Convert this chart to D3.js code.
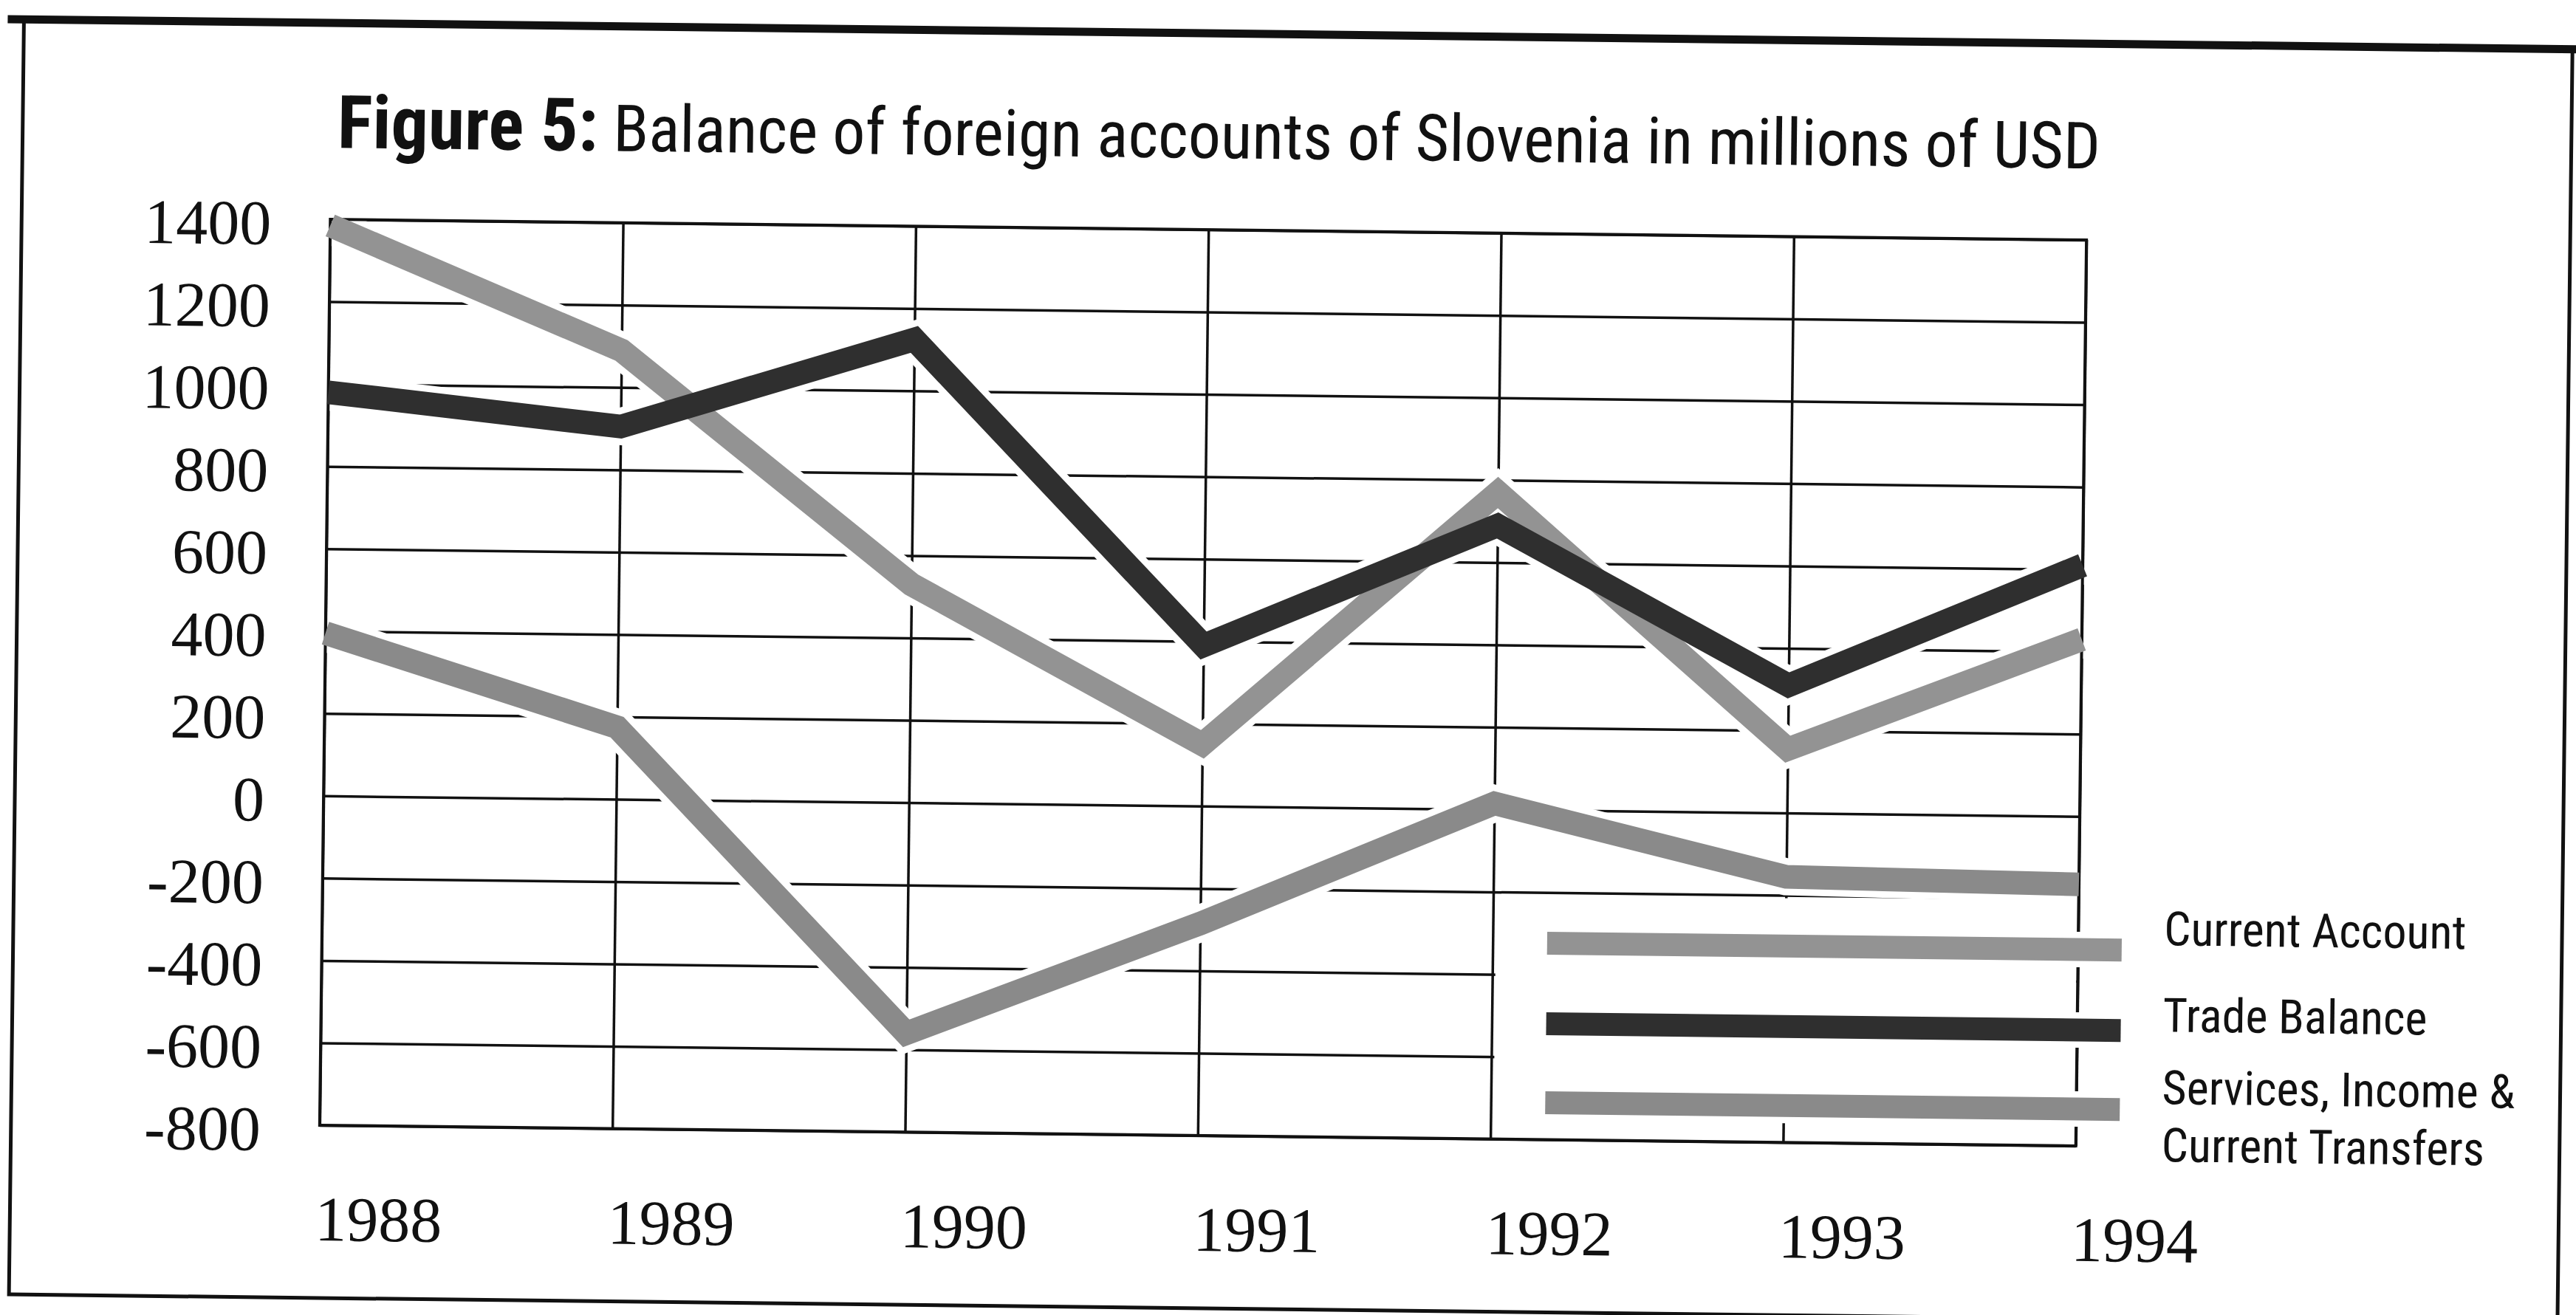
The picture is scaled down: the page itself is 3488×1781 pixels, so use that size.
<!DOCTYPE html>
<html><head><meta charset="utf-8">
<script src="https://cdn.jsdelivr.net/npm/d3@7/dist/d3.min.js"></script>
<style>html,body{margin:0;padding:0;background:#fff;} svg{display:block}</style>
</head><body>
<svg id="chart" width="3488" height="1781"></svg>
<script>
// ---- data ----
const years = [1988, 1989, 1990, 1991, 1992, 1993, 1994];
const currentAccount = [1385, 1090, 530, 150, 770, 155, 430];
const tradeBalance = [980, 905, 1125, 390, 690, 310, 610];
const servicesIncome = [395, 175, -560, -285, 15, -155, -165];
const yTicks = [1400, 1200, 1000, 800, 600, 400, 200, 0, -200, -400, -600, -800];
const yTickLabels = ["1400", "1200", "1000", "800", "600", "400", "200", "0", "-200", "-400", "-600", "-800"];
const xTickLabels = ["1988", "1989", "1990", "1991", "1992", "1993", "1994"];
const seriesNames = ["Current Account", "Trade Balance", "Services, Income &|Current Transfers"];
const titleBold = "Figure 5:";
const titleRest = "Balance of foreign accounts of Slovenia in millions of USD";

// ---- layout ----
const svg = d3.select("#chart");
const root = svg.append("g").attr("transform", "rotate(0.674 1630 923.5)");
const L = 440, R = 2818, T = 311, B = 1538;
const x = d3.scalePoint().domain(years).range([L, R]).padding(0);
const y = d3.scaleLinear().domain([-800, 1400]).range([B, T]);

const series = [
  {name: seriesNames[2], values: servicesIncome, color: "#8a8a8a"},
  {name: seriesNames[0], values: currentAccount, color: "#939393"},
  {name: seriesNames[1], values: tradeBalance, color: "#2f2f2f"}
];
const legendOrder = [series[1], series[2], series[0]];

const sans = "'Liberation Sans Narrow','Arial Narrow','Roboto Condensed',sans-serif";
const serif = "'Liberation Serif','Times New Roman',serif";

// outer frame
root.append("rect").attr("x", 22).attr("y", 45).attr("width", 3451).attr("height", 1727)
  .attr("fill", "none").attr("stroke", "#111").attr("stroke-width", 5);
root.append("line").attr("x1", 0).attr("x2", 3600).attr("y1", 45).attr("y2", 45)
  .attr("stroke", "#111").attr("stroke-width", 11);

// title
const title = root.append("text").attr("x", 448).attr("y", 214)
  .attr("font-family", sans).attr("fill", "#111");
title.append("tspan").attr("font-weight", "bold").attr("font-size", 100).text(titleBold);
title.append("tspan").attr("font-size", 88).text(" " + titleRest);

// gridlines through axes
const gridY = d3.axisLeft(y).tickValues(yTicks).tickSize(-(R - L)).tickFormat("");
root.append("g").attr("class", "grid").attr("transform", `translate(${L},0)`).call(gridY);
const gridX = d3.axisBottom(x).tickValues(years).tickSize(-(B - T)).tickFormat("");
root.append("g").attr("class", "grid").attr("transform", `translate(0,${B})`).call(gridX);
root.selectAll(".grid .domain").remove();
root.selectAll(".grid line").attr("stroke", "#111").attr("stroke-width", 3.5);

// legend box (white, hides grid)
root.append("rect")
  .attr("x", x(1992) + 4).attr("y", y(-200) + 4)
  .attr("width", x(1994) - x(1992) - 6).attr("height", y(-800) - y(-200) - 34)
  .attr("fill", "#fff");

// line generator
const line = d3.line().x((d, i) => x(years[i])).y(d => y(d)).curve(d3.curveLinear);

// halos
root.append("g").selectAll("path").data(series).join("path")
  .attr("d", d => line(d.values)).attr("fill", "none")
  .attr("stroke", "#fff").attr("stroke-width", 50).attr("stroke-linejoin", "miter")
  .attr("stroke-miterlimit", 10).attr("stroke-linecap", "butt");

// plot border
root.append("rect").attr("x", L).attr("y", T).attr("width", R - L).attr("height", B - T)
  .attr("fill", "none").attr("stroke", "#111").attr("stroke-width", 4);

// data lines
root.append("g").selectAll("path").data(series).join("path")
  .attr("d", d => line(d.values)).attr("fill", "none")
  .attr("stroke", d => d.color).attr("stroke-width", 32).attr("stroke-linejoin", "miter")
  .attr("stroke-miterlimit", 10).attr("stroke-linecap", "butt");

// legend
const legY = [1272, 1381, 1488];
const legTextDy = [-7, 1, -8];
const lg = root.append("g");
legendOrder.forEach((s, i) => {
  lg.append("line").attr("x1", 2099).attr("x2", 2877).attr("y1", legY[i]).attr("y2", legY[i])
    .attr("stroke", "#fff").attr("stroke-width", 48);
});
legendOrder.forEach((s, i) => {
  lg.append("line").attr("x1", 2099).attr("x2", 2877).attr("y1", legY[i]).attr("y2", legY[i])
    .attr("stroke", s.color).attr("stroke-width", 31);
  const parts = s.name.split("|");
  parts.forEach((p, j) => {
    lg.append("text").attr("x", 2934).attr("y", legY[i] + legTextDy[i] + j * 78)
      .attr("font-family", sans).attr("font-size", 64).attr("fill", "#111").text(p);
  });
});

// y tick labels
root.append("g").selectAll("text").data(yTicks).join("text")
  .attr("x", L - 80).attr("y", d => y(d) + 35)
  .attr("text-anchor", "end").attr("font-family", serif).attr("font-size", 86).attr("fill", "#111")
  .text((d, i) => yTickLabels[i]);

// x tick labels
root.append("g").selectAll("text").data(years).join("text")
  .attr("x", d => x(d) - 5).attr("y", 1694)
  .attr("text-anchor", "start").attr("font-family", serif).attr("font-size", 86).attr("fill", "#111")
  .text((d, i) => xTickLabels[i]);
</script>
</body></html>
